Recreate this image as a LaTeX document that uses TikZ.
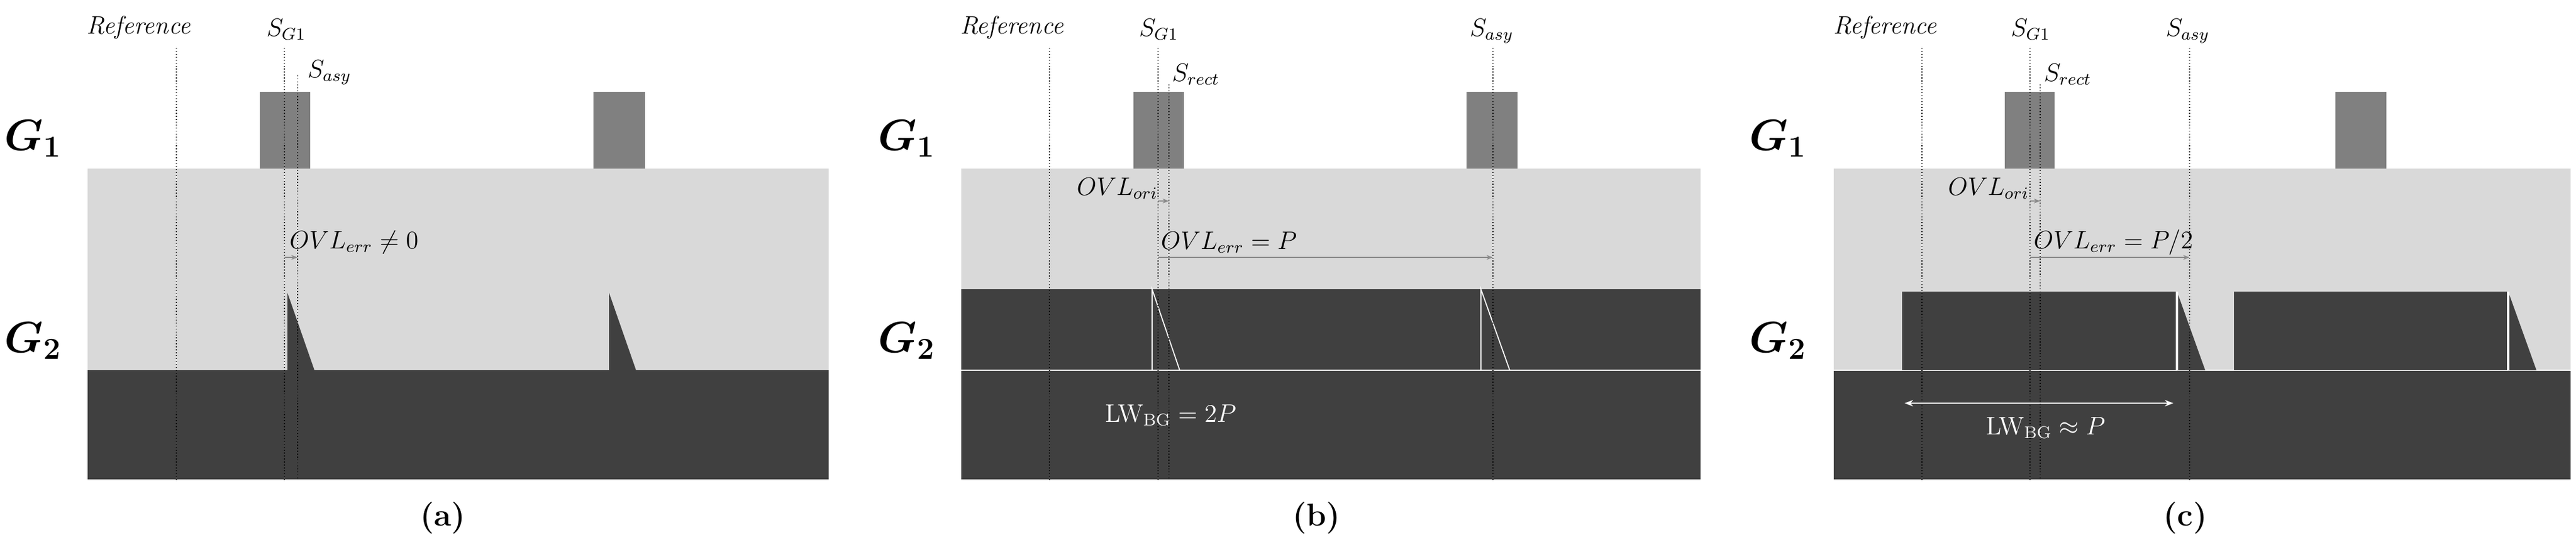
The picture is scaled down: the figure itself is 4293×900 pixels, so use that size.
\documentclass[tikz,border=0pt]{standalone}
\usepackage{bm}
\usetikzlibrary{arrows.meta}
\begin{document}
\begin{tikzpicture}[x=0.01cm,y=-0.01cm,
  lg/.style={fill=black!15},
  dk/.style={fill=black!75},
  g1/.style={fill=black!50},
  ref/.style={densely dotted,line width=0.4pt,black},
  lab/.style={font=\fontsize{12}{14}\selectfont},
  glab/.style={font=\fontsize{20}{24}\selectfont\bfseries},
  pcap/.style={font=\fontsize{15}{18}\selectfont\bfseries},
  mea/.style={-{Stealth[length=3pt]},black!45,line width=0.6pt},
  wl/.style={white,line width=0.5pt}]
\useasboundingbox (0,0) rectangle (4293,900);
% ---------- panel a ----------
\fill[lg] (146,281) rectangle (1381,617);
\fill[dk] (146,617) rectangle (1381,799);
\fill[g1] (433,153) rectangle (517,281);
\fill[g1] (989,153) rectangle (1075,281);
\fill[dk] (479,488) -- (479,617) -- (524,617) -- cycle;
\fill[dk] (1015,488) -- (1015,617) -- (1060,617) -- cycle;
\coordinate (aR1) at (294,80); \coordinate (aR2) at (294,799);
\coordinate (aS1) at (474,80); \coordinate (aS2) at (474,799);
\coordinate (aA1) at (496,126); \coordinate (aA2) at (496,799);
\draw[ref] (aR1) -- (aR2); \draw[ref] (aS1) -- (aS2); \draw[ref] (aA1) -- (aA2);
\coordinate (aE1) at (474,429); \coordinate (aE2) at (496,429);
\draw[mea] (aE1) -- (aE2);
\node[lab] (aref) at (231,46) {\itshape Reference};
\node[lab] (asg) at (477,49) {$S_{G1}$};
\node[lab] (asa) at (549,121) {$S_{asy}$};
\node[lab] (aovl) at (590,404) {$OVL_{err}\neq 0$};
\node[glab] (ag1) at (55,231) {$\bm{G_1}$};
\node[glab] (ag2) at (55,568) {$\bm{G_2}$};
\node[pcap] (acap) at (738,863) {(a)};
% ---------- panel b ----------
\fill[lg] (1602,281) rectangle (2834,482);
\fill[dk] (1602,482) rectangle (2834,799);
\draw[wl] (1602,617) -- (2834,617);
\fill[g1] (1889,153) rectangle (1973,281);
\fill[g1] (2444,153) rectangle (2529,281);
\draw[wl] (1920,482) -- (1920,617) -- (1966,617) -- cycle;
\draw[wl] (2468,482) -- (2468,617) -- (2516,617) -- cycle;
\draw[ref] (1749,80) -- (1749,799);
\draw[ref] (1930,80) -- (1930,799);
\draw[ref] (1948,141) -- (1948,799);
\draw[ref] (2488,80) -- (2488,799);
\coordinate (bO1) at (1930,335); \coordinate (bO2) at (1948,335);
\coordinate (bE1) at (1930,429); \coordinate (bE2) at (2488,429);
\draw[mea] (bO1) -- (bO2); \draw[mea] (bE1) -- (bE2);
\node[lab] (bref) at (1686,46) {\itshape Reference};
\node[lab] (bsg) at (1931,49) {$S_{G1}$};
\node[lab] (bsr) at (1993,124) {$S_{rect}$};
\node[lab] (bsa) at (2486,52) {$S_{asy}$};
\node[lab] (bovo) at (1862,314) {$OVL_{ori}$};
\node[lab] (bove) at (2048,404) {$OVL_{err}=P$};
\node[lab,text=white] (blw) at (1951,692) {$\mathrm{LW_{BG}}=2P$};
\node[glab] (bg1) at (1511,231) {$\bm{G_1}$};
\node[glab] (bg2) at (1511,568) {$\bm{G_2}$};
\node[pcap] (bcap) at (2194,863) {(b)};
% ---------- panel c ----------
\fill[lg] (3056,281) rectangle (4284,617);
\fill[dk] (3056,617) rectangle (4284,799);
\draw[wl] (3056,617) -- (4284,617);
\fill[g1] (3341,153) rectangle (3424,281);
\fill[g1] (3892,153) rectangle (3977,281);
\fill[dk] (3170,486) rectangle (3628,617);
\fill[dk] (3628,486) -- (3628,617) -- (3675,617) -- cycle;
\draw[white,line width=1pt] (3628,486) -- (3628,617);
\fill[dk] (3723,486) rectangle (4180,617);
\fill[dk] (4180,486) -- (4180,617) -- (4227,617) -- cycle;
\draw[white,line width=1pt] (4180,486) -- (4180,617);
\draw[ref] (3203,80) -- (3203,799);
\draw[ref] (3383,80) -- (3383,799);
\draw[ref] (3400,141) -- (3400,799);
\draw[ref] (3649,80) -- (3649,799);
\coordinate (cO1) at (3383,335); \coordinate (cO2) at (3400,335);
\coordinate (cE1) at (3383,429); \coordinate (cE2) at (3649,429);
\draw[mea] (cO1) -- (cO2); \draw[mea] (cE1) -- (cE2);
\coordinate (cL1) at (3174,672); \coordinate (cL2) at (3622,672);
\draw[{Stealth[length=4pt]}-{Stealth[length=4pt]},white,line width=0.8pt] (cL1) -- (cL2);
\node[lab] (cref) at (3141,46) {\itshape Reference};
\node[lab] (csg) at (3384,49) {$S_{G1}$};
\node[lab] (csr) at (3446,124) {$S_{rect}$};
\node[lab] (csa) at (3646,52) {$S_{asy}$};
\node[lab] (covo) at (3314,314) {$OVL_{ori}$};
\node[lab] (cove) at (3522,404) {$OVL_{err}=P/2$};
\node[lab,text=white] (clw) at (3409,713) {$\mathrm{LW_{BG}}\approx P$};
\node[glab] (cg1) at (2963,231) {$\bm{G_1}$};
\node[glab] (cg2) at (2963,568) {$\bm{G_2}$};
\node[pcap] (ccap) at (3642,863) {(c)};
\end{tikzpicture}
\end{document}
